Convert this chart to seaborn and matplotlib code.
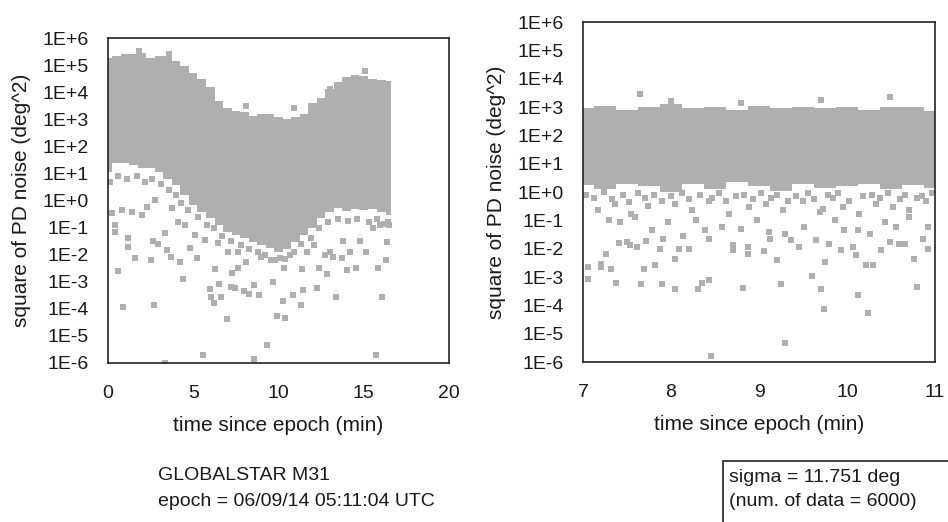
import numpy as np
import pandas as pd
import seaborn as sns
import matplotlib.pyplot as plt
from matplotlib.patches import Rectangle

# ---- left panel: dense band (log10 of deg^2) ----
band_t = [0, 0.5, 1, 1.5, 2, 2.5, 3, 3.5, 4, 4.5, 5, 5.5, 6, 6.5, 7, 7.5, 8,
          8.5, 9, 9.5, 10, 10.5, 11, 11.5, 12, 12.5, 13, 13.5, 14, 14.5, 15,
          15.5, 16, 16.6]
band_hi = [5.27, 5.35, 5.4, 5.4, 5.45, 5.27, 5.33, 5.33, 5.15, 4.95, 4.72, 4.49,
           4.2, 3.68, 3.43, 3.31, 3.25, 3.13, 3.2, 3.2, 3.1, 3.02, 3.1, 3.2,
           3.6, 3.8, 4.1, 4.36, 4.55, 4.62, 4.58, 4.5, 4.45, 4.4]
band_lo = [1.06, 1.4, 1.4, 1.3, 1.2, 1.2, 1.06, 0.8, 0.57, 0.2, -0.17, -0.41,
           -0.66, -0.9, -1.15, -1.27, -1.4, -1.52, -1.64, -1.76, -1.89, -1.8,
           -1.52, -1.27, -1.03, -0.66, -0.41, -0.29, -0.4, -0.3, -0.35, -0.3,
           -0.41, -0.53]

# scattered points (time in min, log10 value)
left_t = [0.58, 0.87, 2.67, 0.41, 0.41, 1.6, 2.5, 1.2, 1.2, 3.35, 2.63, 2.96,
          3.45, 3.7, 4.22, 4.41, 4.8, 5.25, 5.58, 5.96, 6.06, 6.2, 6.64, 6.25,
          6.54, 6.99, 7.22, 7.45, 7.3, 7.61, 8.0, 8.29, 8.58, 8.54, 8.86, 9.35,
          9.65, 9.89, 10.36, 10.28, 10.32, 10.86, 11.33, 11.44, 11.38, 12.26,
          12.39, 12.83, 13.38, 13.2, 13.7, 14.0, 14.54, 15.7, 15.84, 16.07,
          16.28, 16.35, 3.35,
          0.25, 0.8, 1.41, 2.0, 2.3, 2.77, 3.74, 4.12, 4.5, 5.1, 5.67, 6.45,
          7.03, 7.6, 8.1, 8.96, 9.55, 10.1, 10.7, 11.7, 12.06, 12.74, 13.0,
          13.8, 14.2, 14.77, 15.16, 15.55, 15.93, 16.4,
          0.1, 0.6, 1.1, 1.7, 2.2, 2.6, 3.1, 3.6, 4.0, 4.3, 4.7, 5.3, 5.8, 6.2,
          6.7, 7.2, 7.8, 8.3, 8.8, 9.2, 9.8, 10.4, 10.9, 11.3, 11.9, 12.4,
          12.9, 13.5, 14.1, 14.6, 15.3, 15.8, 16.2, 16.5,
          1.8, 3.55, 8.1, 10.9, 13.0, 15.1]
left_v = [-2.62, -3.95, -3.85, -1.15, -0.9, -2.13, -2.2, -1.7, -1.4, -1.2, -1.5,
          -1.6, -1.83, -2.07, -2.26, -2.9, -1.76, -2.13, -5.72, -3.28, -3.55,
          -3.77, -3.58, -2.53, -3.09, -4.38, -3.18, -3.24, -2.69, -2.5, -3.34,
          -3.46, -3.12, -5.86, -3.5, -5.35, -3.02, -4.28, -4.34, -3.71, -2.5,
          -3.48, -3.85, -3.3, -2.54, -3.24, -2.48, -2.72, -3.58, -2.07, -2.13,
          -2.56, -2.48, -5.72, -2.5, -3.58, -2.2, -1.54, -6.0,
          -0.47, -0.35, -0.41, -0.53, -0.23, 0.02, -0.29, -0.78, -0.9, -1.27,
          -1.46, -1.58, -1.89, -1.9, -2.26, -2.07, -2.2, -2.13, -2.0, -1.89,
          -1.64, -2.0, -1.89, -1.5, -1.89, -1.5, -1.89, -1.03, -0.9, -0.78,
          0.7, 0.9, 0.8, 0.9, 0.7, 0.8, 0.6, 0.4, 0.2, -0.1, -0.35, -0.6, -0.9,
          -1.0, -1.3, -1.5, -1.65, -1.8, -1.9, -2.0, -2.2, -2.15, -1.9, -1.6,
          -1.4, -1.0, -0.8, -0.7, -0.75, -0.7, -0.8, -0.7, -0.85, -0.9,
          5.52, 5.4, 3.49, 3.4, 4.1, 4.77]

# ---- right panel ----
rband_t = [7, 7.25, 7.5, 7.75, 8, 8.25, 8.5, 8.75, 9, 9.25, 9.5, 9.75, 10,
           10.25, 10.5, 10.75, 11]
rband_hi = [2.95, 3.05, 2.9, 3.0, 3.1, 2.95, 3.0, 2.9, 3.05, 2.95, 3.0, 2.95,
            3.0, 2.9, 3.0, 3.0, 2.85]
rband_lo = [0.25, 0.1, 0.3, 0.2, 0.0, 0.3, 0.1, 0.35, 0.2, 0.05, 0.3, 0.15,
            0.2, 0.3, 0.1, 0.25, 0.15]

right_t = [7.06, 7.06, 7.21, 7.21, 7.26, 7.32, 7.37, 7.41, 7.5, 7.53, 7.61,
           7.66, 7.69, 7.72, 7.82, 7.88, 7.9, 7.91, 8.04, 8.05, 8.09, 8.14, 8.2,
           8.31, 8.35, 8.43, 8.45, 8.43, 8.7, 8.71, 8.82, 8.87, 8.87, 9.06,
           9.13, 9.21, 9.25, 9.29, 9.36, 9.45, 9.6, 9.65, 9.71, 9.74, 9.75, 9.8,
           9.93, 10.07, 10.1, 10.12, 10.22, 10.3, 10.24, 10.39, 10.49, 10.59,
           10.66, 10.76, 10.8, 10.86, 10.92,
           7.29, 7.42, 7.59, 7.78, 7.97, 8.28, 8.39, 8.58, 8.79, 8.98, 9.11,
           9.29, 9.51, 9.69, 9.86, 9.97, 10.12, 10.26, 10.43, 10.56, 10.71,
           10.92,
           7.17, 7.36, 7.55, 7.74, 8.05, 8.24, 8.43, 8.66, 8.89, 9.08, 9.27,
           9.5, 9.73, 9.95, 10.14, 10.33, 10.52, 10.71, 10.9,
           7.03, 7.12, 7.24, 7.33, 7.45, 7.52, 7.63, 7.7, 7.81, 7.9, 8.0, 8.12,
           8.2, 8.33, 8.47, 8.55, 8.62, 8.74, 8.83, 8.93, 9.02, 9.14, 9.2,
           9.33, 9.42, 9.56, 9.62, 9.78, 9.84, 9.9, 10.02, 10.18, 10.28, 10.37,
           10.47, 10.6, 10.66, 10.8, 10.85, 10.97,
           7.65, 9.7, 10.49, 8.0, 8.8]
right_v = [-2.65, -3.06, -2.53, -2.65, -2.18, -2.7, -3.21, -1.8, -1.76, -1.88,
           -1.94, -3.24, -2.7, -1.73, -2.59, -2.0, -3.26, -1.65, -3.42, -2.35,
           -2.0, -1.56, -2.0, -3.42, -3.21, -3.09, -5.8, -1.65, -2.06, -1.86,
           -3.38, -1.94, -2.18, -2.08, -1.65, -2.41, -3.26, -5.32, -1.68, -1.94,
           -2.95, -1.71, -3.42, -4.14, -2.47, -1.82, -2.06, -1.94, -2.24, -3.62,
           -2.59, -2.59, -4.27, -2.06, -1.76, -1.82, -1.82, -2.35, -3.35, -1.65,
           -2.0,
           -1.0, -1.06, -0.88, -1.35, -1.06, -1.0, -1.35, -1.24, -1.29, -1.0,
           -1.41, -1.47, -1.24, -0.71, -1.0, -1.35, -1.35, -1.47, -1.06, -1.24,
           -0.88, -1.24,
           -0.65, -0.41, -0.76, -0.5, -0.41, -0.65, -0.3, -0.76, -0.53, -0.41,
           -0.65, -0.3, -0.59, -0.53, -0.76, -0.41, -0.53, -0.65, -0.3,
           -0.1, -0.2, 0.0, -0.25, -0.1, -0.35, -0.05, -0.2, -0.1, -0.3, -0.15,
           -0.05, -0.25, -0.1, -0.2, -0.05, -0.3, -0.15, -0.1, -0.25, -0.05,
           -0.2, -0.1, -0.3, -0.15, -0.05, -0.25, -0.1, -0.2, -0.05, -0.3,
           -0.15, -0.1, -0.2, -0.05, -0.25, -0.1, -0.2, -0.15, -0.05,
           3.47, 3.26, 3.35, 3.2, 3.15]

ytick_labels = ["1E-6", "1E-5", "1E-4", "1E-3", "1E-2", "1E-1", "1E+0",
                "1E+1", "1E+2", "1E+3", "1E+4", "1E+5", "1E+6"]

sns.set_style("white")
plt.rcParams["font.family"] = ["Liberation Sans", "DejaVu Sans"]

gray = "#afafaf"
fig = plt.figure(figsize=(9.48, 5.22), dpi=100)
ax1 = fig.add_axes([0.1139, 0.3046, 0.3597, 0.6226])
ax2 = fig.add_axes([0.615, 0.3065, 0.3713, 0.6513])


def draw(ax, bt, bhi, blo, pt, pv, xlim, xticks):
    ax.fill_between(bt, 10.0 ** np.array(blo), 10.0 ** np.array(bhi),
                    color=gray, lw=0, step="mid")
    df = pd.DataFrame({"t": pt, "v": 10.0 ** np.array(pv)})
    sns.scatterplot(data=df, x="t", y="v", ax=ax, marker="s", s=20,
                    color=gray, linewidth=0)
    ax.set_yscale("log")
    ax.set_ylim(1e-6, 1e6)
    ax.set_xlim(*xlim)
    ax.set_yticks([10.0 ** k for k in range(-6, 7)])
    ax.set_yticklabels(ytick_labels)
    ax.minorticks_off()
    ax.set_xticks(xticks)
    ax.set_xticklabels([str(x) for x in xticks])
    ax.tick_params(axis="y", direction="in", length=3, width=1.2, pad=14,
                   labelsize=14, labelcolor="#1a1a1a")
    ax.tick_params(axis="x", length=0, pad=16, labelsize=14, labelcolor="#1a1a1a")
    ax.set_xlabel("time since epoch (min)", fontsize=15, labelpad=10,
                  color="#1a1a1a")
    ax.set_ylabel("square of PD noise (deg^2)", fontsize=15, labelpad=8,
                  color="#1a1a1a")
    for s in ax.spines.values():
        s.set_color("#222222")
        s.set_linewidth(1.2)


draw(ax1, band_t, band_hi, band_lo, left_t, left_v, (0, 20), [0, 5, 10, 15, 20])
draw(ax2, rband_t, rband_hi, rband_lo, right_t, right_v, (7, 11), [7, 8, 9, 10, 11])

fig.text(158 / 948, 1 - 475 / 522, "GLOBALSTAR M31", fontsize=14,
         ha="left", va="center", color="#1a1a1a")
fig.text(158 / 948, 1 - 502 / 522, "epoch = 06/09/14 05:11:04 UTC", fontsize=14,
         ha="left", va="center", color="#1a1a1a")

fig.patches.append(Rectangle((723 / 948, -0.1), 0.4, 0.1 + 1 - 461 / 522,
                             transform=fig.transFigure, fill=False,
                             ec="#222222", lw=1.2))
fig.text(729 / 948, 1 - 477 / 522, "sigma = 11.751 deg", fontsize=14,
         ha="left", va="center", color="#1a1a1a")
fig.text(729 / 948, 1 - 502 / 522, "(num. of data = 6000)", fontsize=14,
         ha="left", va="center", color="#1a1a1a")

fig.savefig("out.png", dpi=100)
